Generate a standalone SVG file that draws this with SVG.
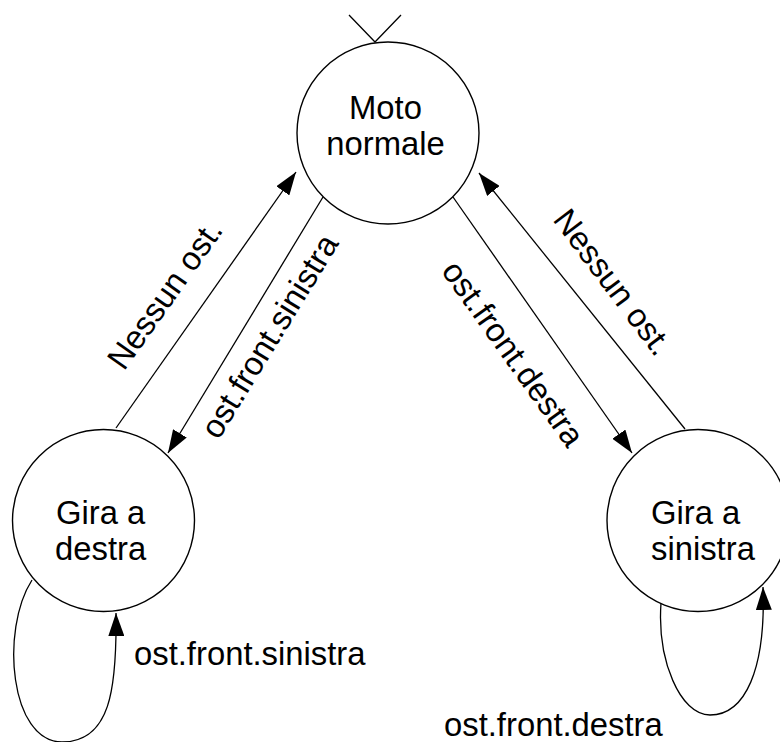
<svg xmlns="http://www.w3.org/2000/svg" width="780" height="742" viewBox="0 0 780 742">
  <defs>
    <marker id="arrow" viewBox="0 0 23 16" markerUnits="userSpaceOnUse" markerWidth="23" markerHeight="16" refX="23" refY="8" orient="auto">
      <path d="M0,0 L23,8 L0,16 Z" fill="#000"/>
    </marker>
    <style>
      .state { fill: #fff; stroke: #000; stroke-width: 1.4; }
      .edge { fill: none; stroke: #000; stroke-width: 1.3; }
      .arrowed { marker-end: url(#arrow); }
      text { font-family: "Liberation Sans", Arial, sans-serif; font-size: 32.8px; fill: #000; }
    </style>
  </defs>
  <rect width="780" height="742" fill="#fff"/>

  <!-- transitions -->
  <g id="connectors">
    <!-- initial-state mark -->
    <polyline class="edge" points="349,15 375,42 401,15"/>
    <!-- Gira a destra -> Moto normale -->
    <line class="edge arrowed" x1="116" y1="428" x2="296" y2="172"/>
    <!-- Moto normale -> Gira a destra -->
    <line class="edge arrowed" x1="323" y1="197" x2="168" y2="453"/>
    <!-- Moto normale -> Gira a sinistra -->
    <line class="edge arrowed" x1="453" y1="197" x2="632" y2="453"/>
    <!-- Gira a sinistra -> Moto normale -->
    <line class="edge arrowed" x1="685" y1="429" x2="479" y2="173"/>
    <!-- self loops -->
    <path class="edge arrowed" d="M32,580 C0,630 10,742 62,742 C110,742 117,690 116,613"/>
    <path class="edge arrowed" d="M661,603 C657,660 680,715 710,715 C745,715 766,670 763,587"/>

    <text x="174" y="301" text-anchor="middle" transform="rotate(-54.7 174 301)">Nessun ost.</text>
    <text x="279" y="342" text-anchor="middle" transform="rotate(-58.5 279 342)">ost.front.sinistra</text>
    <text x="504" y="360" text-anchor="middle" transform="rotate(54.5 504 360)">ost.front.destra</text>
    <text x="604" y="289" text-anchor="middle" transform="rotate(53 604 289)">Nessun ost.</text>
    <text x="134" y="665">ost.front.sinistra</text>
    <text x="444" y="736">ost.front.destra</text>
  </g>

  <g id="moto-normale">
    <circle class="state" cx="388" cy="133" r="91"/>
    <text text-anchor="middle"><tspan x="385.5" y="119">Moto</tspan><tspan x="385.5" y="155">normale</tspan></text>
  </g>

  <g id="gira-a-destra">
    <circle class="state" cx="103.5" cy="520.5" r="91"/>
    <text><tspan x="56" y="524">Gira a</tspan><tspan x="55" y="560">destra</tspan></text>
  </g>

  <g id="gira-a-sinistra">
    <circle class="state" cx="698" cy="520.5" r="91"/>
    <text><tspan x="651" y="524">Gira a</tspan><tspan x="651" y="560">sinistra</tspan></text>
  </g>
</svg>
